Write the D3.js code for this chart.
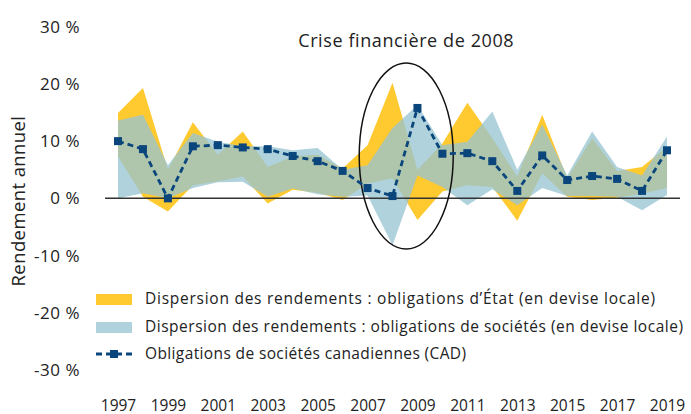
<!DOCTYPE html>
<html>
<head>
<meta charset="utf-8">
<script src="https://cdn.jsdelivr.net/npm/d3@7"></script>
<style>
  body { margin: 0; background: #fff; }
  text { font-family: "Open Sans", sans-serif; fill: #222; }
</style>
</head>
<body>
<div id="chart"></div>
<script>
const years = d3.range(1997, 2020);
const cad      = [10.0, 8.6, 0.0, 9.1, 9.3, 8.9, 8.6, 7.4, 6.5, 4.8, 1.8, 0.4, 15.8, 7.8, 7.9, 6.5, 1.3, 7.5, 3.2, 3.9, 3.4, 1.3, 8.4];
const govHigh  = [14.9, 19.3, 5.0, 13.3, 7.6, 11.7, 5.5, 7.3, 7.6, 5.2, 9.3, 20.2, 5.0, 9.6, 16.7, 10.5, 3.8, 14.6, 3.5, 10.5, 4.8, 5.5, 9.0];
const govLow   = [7.3, 0.3, -2.3, 2.3, 3.0, 3.8, -0.9, 1.5, 1.0, -0.3, 2.6, 3.5, -3.8, 1.2, 2.3, 2.0, -3.9, 4.4, 0.3, -0.3, 0.1, 0.8, 1.8];
const corpHigh = [13.6, 14.6, 5.8, 11.4, 9.9, 9.1, 9.1, 8.4, 8.8, 5.0, 5.8, 12.3, 16.3, 9.3, 9.9, 15.2, 5.0, 12.9, 4.0, 11.7, 5.5, 4.0, 10.8];
const corpLow  = [0.0, 0.9, 0.0, 1.8, 2.8, 2.9, 0.3, 1.7, 0.7, 0.3, 0.5, -8.2, 4.0, 2.0, -1.2, 1.6, -1.2, 1.8, 0.4, 0.4, 0.3, -2.1, 0.6];
const yTicks = [-30, -20, -10, 0, 10, 20, 30];
const xTicks = d3.range(1997, 2020, 2);
const legendLabels = [
  "Dispersion des rendements : obligations d\u2019État (en devise locale)",
  "Dispersion des rendements : obligations de sociétés (en devise locale)",
  "Obligations de sociétés canadiennes (CAD)"
];

const width = 691, height = 414;
const yellow = "#ffc930", blue = "rgb(151,196,209)", navy = "#0a467c";

const svg = d3.select("#chart").append("svg")
  .attr("width", width)
  .attr("height", height);

const x = d3.scaleLinear().domain([1997, 2019]).range([118, 667]);
const y = d3.scaleLinear().domain([-30, 30]).range([370, 26.7]);

// bands
const gov = years.map((yr, i) => ({ yr, lo: govLow[i], hi: govHigh[i] }));
const corp = years.map((yr, i) => ({ yr, lo: corpLow[i], hi: corpHigh[i] }));
const band = d3.area().x(d => x(d.yr)).y0(d => y(d.lo)).y1(d => y(d.hi));

svg.append("path").datum(gov).attr("d", band).attr("fill", yellow);
svg.append("path").datum(corp).attr("d", band).attr("fill", blue).attr("fill-opacity", 0.77);

// zero line
svg.append("line")
  .attr("x1", 105).attr("x2", 680)
  .attr("y1", y(0)).attr("y2", y(0))
  .attr("stroke", "#333").attr("stroke-width", 1.5);

// crisis ellipse
svg.append("ellipse")
  .attr("cx", x(2008.55)).attr("cy", y(7.4))
  .attr("rx", 47).attr("ry", 93)
  .attr("fill", "none").attr("stroke", "#111").attr("stroke-width", 1.5);

svg.append("text")
  .attr("x", x(2008.55)).attr("y", 47)
  .attr("text-anchor", "middle")
  .style("font-size", "18px")
  .style("letter-spacing", "0.6px")
  .text("Crise financière de 2008");

// CAD line
const line = d3.line().x((d, i) => x(years[i])).y(d => y(d));
svg.append("path").datum(cad).attr("d", line)
  .attr("fill", "none").attr("stroke", navy)
  .attr("stroke-width", 2.8).attr("stroke-dasharray", "6,4");

svg.append("g").selectAll("rect")
  .data(cad)
  .enter().append("rect")
  .attr("x", (d, i) => x(years[i]) - 4)
  .attr("y", d => y(d) - 4)
  .attr("width", 8).attr("height", 8)
  .attr("fill", navy);

// axes
const yAxis = svg.append("g")
  .attr("transform", "translate(80,0)")
  .call(d3.axisLeft(y).tickValues(yTicks).tickSize(0).tickPadding(0).tickFormat(d => d + " %"));
yAxis.select(".domain").remove();
yAxis.selectAll("text").style("font-size", "17px").style("letter-spacing", "0.5px")
  .style("font-family", "Open Sans").attr("fill", "#222");

const xAxis = svg.append("g")
  .attr("transform", "translate(0,397)")
  .call(d3.axisBottom(x).tickValues(xTicks).tickSize(0).tickPadding(3).tickFormat(d3.format("d")));
xAxis.select(".domain").remove();
xAxis.selectAll("text").style("font-size", "15.5px").style("font-family", "Open Sans").attr("fill", "#222");

svg.append("text")
  .attr("transform", "translate(25,201) rotate(-90)")
  .attr("text-anchor", "middle")
  .style("font-size", "18.5px")
  .style("letter-spacing", "0.4px")
  .text("Rendement annuel");

// legend
const legend = svg.append("g");
const rowY = [299, 327, 354];
const rowLen = [510, 538, 321];
legend.append("rect").attr("x", 96).attr("y", rowY[0] - 5).attr("width", 36).attr("height", 11).attr("fill", yellow);
legend.append("rect").attr("x", 96).attr("y", rowY[1] - 5).attr("width", 36).attr("height", 11).attr("fill", blue).attr("fill-opacity", 0.77);
legend.append("line").attr("x1", 96).attr("x2", 132).attr("y1", rowY[2]).attr("y2", rowY[2])
  .attr("stroke", navy).attr("stroke-width", 2.8).attr("stroke-dasharray", "6,4");
legend.append("rect").attr("x", 110).attr("y", rowY[2] - 4).attr("width", 8).attr("height", 8).attr("fill", navy);
legend.selectAll("text.lbl")
  .data(legendLabels)
  .enter().append("text")
  .attr("class", "lbl")
  .attr("x", 145).attr("y", (d, i) => rowY[i])
  .attr("dy", "0.35em")
  .attr("textLength", (d, i) => rowLen[i])
  .attr("lengthAdjust", "spacing")
  .style("font-size", "15.5px")
  .text(d => d);
</script>
</body>
</html>
